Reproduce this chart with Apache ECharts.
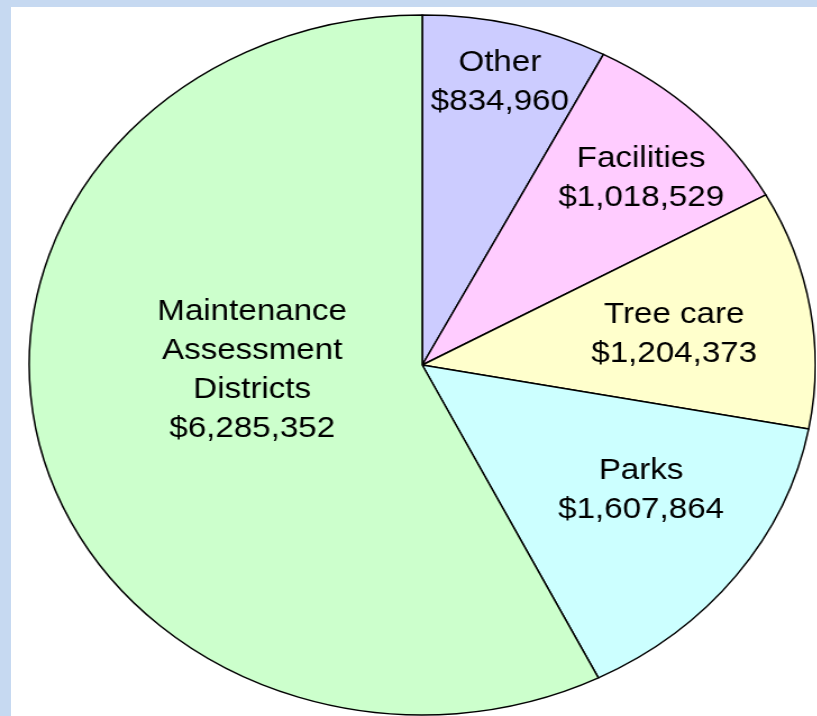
<!DOCTYPE html>
<html>
<head>
<meta charset="utf-8">
<script src="https://cdn.jsdelivr.net/npm/echarts@6/dist/echarts.min.js"></script>
<style>
    html, body { margin: 0; padding: 0; width: 817px; height: 716px; overflow: hidden; background: #c6d9f1; }
    #frame { position: absolute; left: 11px; top: 7px; right: 0; bottom: 0; background: #ffffff; }
    /* the original pie is a little wider than tall, so stretch the chart */
    #chart { position: absolute; left: 0; top: 0; width: 727px; height: 716px; transform: scaleX(1.123); transform-origin: 0 0; }
</style>
</head>
<body>
<div id="frame"></div>
<div id="chart"></div>
<script>
// 数据（从上方开始顺时针）
const categories = ['Other', 'Facilities', 'Tree care', 'Parks', 'Maintenance\nAssessment\nDistricts'];
const amounts = [834960, 1018529, 1204373, 1607864, 6285352];
const sliceColors = ['#ccccff', '#ffccff', '#ffffcc', '#ccffff', '#ccffcc'];

// 标签位置：半径比例, 相对扇区中线的角度偏移(度)
const labelRadius = [0.832, 0.772, 0.647, 0.662, 0.433];
const labelShift = [0, 2, 1.4, -4.2, 11.3];

const pieCenter = [376, 365];
const pieRadius = 350;

function initPieChart() {
    const chart = echarts.init(document.getElementById('chart'));

    const total = amounts.reduce((a, b) => a + b, 0);
    const cumulative = [];
    let run = 0;
    amounts.forEach(v => { cumulative.push(run); run += v; });

    const option = {
        animation: false,
        series: [
            {
                name: 'Budget',
                type: 'pie',
                center: pieCenter,
                radius: pieRadius,
                startAngle: 90,
                clockwise: true,
                silent: true,
                avoidLabelOverlap: false,
                itemStyle: {
                    borderColor: '#000000',
                    borderWidth: 1.5
                },
                label: {
                    show: true,
                    position: 'inside',
                    color: '#000000',
                    fontFamily: '"Liberation Sans", Arial, sans-serif',
                    fontSize: 29.5,
                    lineHeight: 39,
                    align: 'center',
                    formatter: p => p.name + '\n$' + echarts.format.addCommas(p.value)
                },
                labelLine: { show: false },
                emphasis: { disabled: true },
                labelLayout: function (params) {
                    const i = params.dataIndex;
                    const mid = (cumulative[i] + amounts[i] / 2) / total * 360 + labelShift[i];
                    const a = mid * Math.PI / 180;
                    const r = pieRadius * labelRadius[i];
                    return {
                        x: pieCenter[0] + r * Math.sin(a),
                        y: pieCenter[1] - r * Math.cos(a),
                        align: 'center',
                        verticalAlign: 'middle'
                    };
                },
                data: categories.map((name, i) => ({
                    name: name,
                    value: amounts[i],
                    itemStyle: { color: sliceColors[i] }
                }))
            }
        ]
    };

    chart.setOption(option);
}

initPieChart();
</script>
</body>
</html>
